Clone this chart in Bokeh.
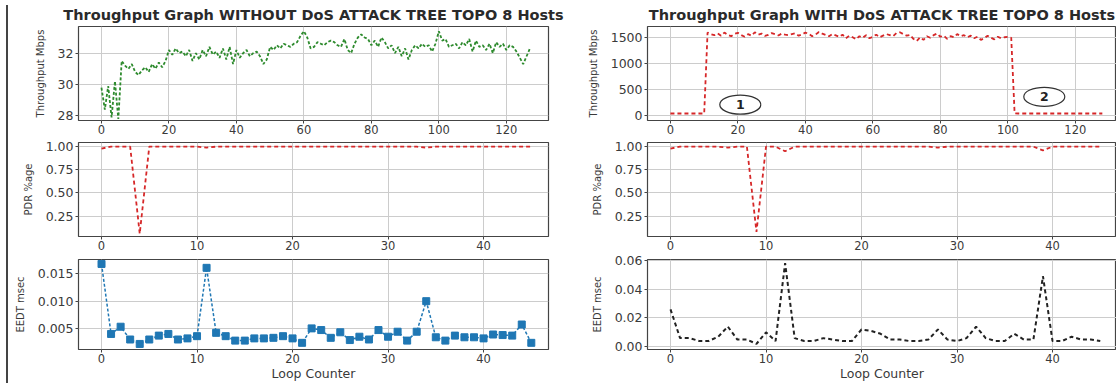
from bokeh.plotting import figure
from bokeh.models import FixedTicker, Range1d, Div, PrintfTickFormatter
from bokeh.layouts import row, column
from bokeh.embed import file_html
from bokeh.resources import INLINE
from bokeh.core.properties import value

# ---------------- data ----------------
tp_x = list(range(128))
tp_clean = [29.8, 28.4, 29.9, 27.9, 30.2, 27.8, 31.5, 31.2, 31.0, 31.3,
            30.8, 30.6, 30.9, 31.1, 30.8, 31.3, 31.0, 31.4, 31.1, 31.5,
            32.2, 31.9, 32.3, 32.0, 32.1, 31.8, 32.2, 31.5, 32.0, 31.6,
            32.2, 31.8, 32.4, 31.9, 32.1, 31.7, 32.3, 31.6, 32.4, 31.3,
            32.2, 31.7, 32.0, 32.2, 31.8, 32.0, 32.1, 31.8, 31.3, 31.6,
            32.4, 32.2, 32.5, 32.3, 32.6, 32.5, 32.4, 32.6, 32.7, 33.1,
            33.4, 33.0, 32.3, 32.4, 32.7, 32.6, 32.5, 32.7, 32.8, 32.7,
            32.5, 32.4, 32.9, 32.2, 32.0, 32.6, 33.0, 33.2, 33.0, 32.9,
            32.5, 32.8, 32.4, 33.0, 32.7, 32.3, 32.5, 32.0, 32.4, 31.8,
            32.3, 31.6, 32.2, 32.5, 32.3, 32.6, 32.4, 32.5, 32.1, 32.6,
            33.4, 32.8, 32.9, 32.4, 32.5, 32.6, 32.3, 32.7, 32.5, 32.9,
            32.1, 32.8, 32.4, 32.5, 32.2, 32.6, 32.0, 32.7, 32.4, 32.6,
            32.2, 32.5, 32.4, 32.1, 31.7, 31.3, 31.8, 32.3]
tp_attack = [40, 40, 40, 40, 40, 40, 40, 40, 40, 40,
             40, 1590, 1560, 1540, 1575, 1530, 1590, 1545, 1520, 1565,
             1585, 1540, 1510, 1560, 1530, 1595, 1550, 1570, 1525, 1545,
             1580, 1560, 1535, 1570, 1550, 1540, 1560, 1575, 1530, 1555,
             1590, 1565, 1520, 1550, 1600, 1570, 1545, 1520, 1560, 1535,
             1510, 1550, 1480, 1530, 1500, 1460, 1520, 1490, 1540, 1480,
             1510, 1550, 1500, 1530, 1560, 1540, 1520, 1580, 1595, 1560,
             1530, 1545, 1470, 1430, 1500, 1450, 1520, 1490, 1540, 1570,
             1510, 1530, 1470, 1520, 1500, 1560, 1520, 1540, 1500, 1530,
             1480, 1510, 1450, 1480, 1530, 1490, 1460, 1510, 1480, 1500,
             1510, 1490, 45, 40, 40, 40, 40, 40, 40, 40,
             40, 40, 40, 40, 40, 40, 40, 40, 40, 40,
             40, 40, 40, 40, 40, 40, 40, 40, 40]
tp_attack_x = list(range(len(tp_attack)))

loop = list(range(46))
pdr_clean = [0.98, 1.0, 1.0, 1.0, 0.06, 1.0, 1.0, 1.0, 1.0, 1.0,
             1.0, 0.99, 1.0, 1.0, 1.0, 1.0, 1.0, 1.0, 1.0, 1.0,
             1.0, 1.0, 1.0, 1.0, 1.0, 1.0, 1.0, 1.0, 1.0, 1.0,
             1.0, 1.0, 1.0, 1.0, 0.99, 1.0, 1.0, 1.0, 1.0, 1.0,
             1.0, 1.0, 1.0, 1.0, 1.0, 1.0]
pdr_attack = [0.98, 1.0, 1.0, 1.0, 1.0, 1.0, 0.99, 1.0, 1.0, 0.08,
              1.0, 1.0, 0.95, 1.0, 1.0, 1.0, 1.0, 1.0, 1.0, 1.0,
              1.0, 1.0, 1.0, 1.0, 1.0, 1.0, 1.0, 1.0, 0.99, 1.0,
              1.0, 1.0, 1.0, 1.0, 1.0, 1.0, 1.0, 1.0, 1.0, 0.96,
              1.0, 1.0, 1.0, 1.0, 1.0, 1.0]
eedt_clean = [0.0167, 0.0041, 0.0054, 0.0031, 0.0023, 0.0031, 0.0038, 0.0041, 0.0031, 0.0033,
              0.0037, 0.0160, 0.0043, 0.0037, 0.0029, 0.0029, 0.0033, 0.0033, 0.0034, 0.0037,
              0.0033, 0.0025, 0.0051, 0.0048, 0.0034, 0.0044, 0.0030, 0.0036, 0.0031, 0.0048,
              0.0036, 0.0045, 0.0029, 0.0045, 0.0100, 0.0035, 0.0029, 0.0038, 0.0035, 0.0035,
              0.0033, 0.0040, 0.0039, 0.0038, 0.0058, 0.0025]
eedt_attack = [0.026, 0.006, 0.006, 0.004, 0.004, 0.007, 0.014, 0.005, 0.005, 0.002,
               0.010, 0.004, 0.058, 0.006, 0.004, 0.004, 0.006, 0.005, 0.004, 0.004,
               0.012, 0.011, 0.009, 0.005, 0.005, 0.004, 0.004, 0.005, 0.012, 0.005,
               0.004, 0.006, 0.014, 0.006, 0.004, 0.004, 0.009, 0.005, 0.005, 0.049,
               0.004, 0.004, 0.007, 0.005, 0.005, 0.004]

callout_x = [20.7, 110.8]
callout_y = [210, 360]
callout_text = ["1", "2"]

title_clean = "Throughput Graph WITHOUT DoS ATTACK TREE TOPO 8 Hosts"
title_attack = "Throughput Graph WITH DoS ATTACK TREE TOPO 8 Hosts"
xticks_tp = [0, 20, 40, 60, 80, 100, 120]
xticks_loop = [0, 10, 20, 30, 40]

FONT = "DejaVu Sans"
TXT = "#3a3a3a"


def make_fig(width, height, xr, yr, bl, br, bt, bb, xticks, yticks, yfmt,
             ylabel, xlabel=None, title=None):
    p = figure(width=width, height=height,
               x_range=Range1d(*xr), y_range=Range1d(*yr),
               output_backend="svg", toolbar_location=None,
               min_border_left=bl, min_border_right=br,
               min_border_top=bt, min_border_bottom=bb,
               background_fill_color="white", border_fill_color="white")
    if title:
        p.title.text = title
        p.title.align = "center"
        p.title.text_font = FONT
        p.title.text_font_size = "14.5px"
        p.title.text_font_style = "bold"
        p.title.text_color = "#2a2a2a"
        p.title.standoff = 7
        p.title.offset = 0
    p.outline_line_color = "#444444"
    p.outline_line_width = 1.2
    p.xaxis.ticker = FixedTicker(ticks=xticks)
    p.yaxis.ticker = FixedTicker(ticks=yticks)
    if yfmt:
        p.yaxis.formatter = PrintfTickFormatter(format=yfmt)
    for ax in (p.xaxis, p.yaxis):
        ax.axis_line_color = None
        ax.major_tick_out = 3
        ax.major_tick_in = 0
        ax.minor_tick_line_color = None
        ax.major_tick_line_color = "#444444"
        ax.major_label_text_font = FONT
        ax.major_label_text_color = TXT
        ax.major_label_standoff = 2
        ax.axis_label_text_font = FONT
        ax.axis_label_text_font_style = "normal"
        ax.axis_label_text_color = TXT
    p.yaxis.major_label_text_font_size = "12.5px"
    p.xaxis.major_label_text_font_size = "11.5px"
    p.xaxis.major_label_standoff = 1
    p.yaxis.axis_label = ylabel
    p.yaxis.axis_label_text_font_size = "10px"
    p.yaxis.axis_label_standoff = 9
    if xlabel:
        p.xaxis.axis_label = xlabel
        p.xaxis.axis_label_text_font_size = "12.5px"
        p.xaxis.axis_label_standoff = 0
    p.grid.grid_line_color = "#cccccc"
    p.grid.grid_line_width = 1
    return p


LW, RW = 576, 532
LB, LR = 70, 36
RBL, RBR = 63, 0
H1, H2, H3 = 138, 115, 130

# --- left column (without attack)
l1 = make_fig(LW, H1, (-6.8, 132.5), (27.7, 33.7), LB, LR, 26, 18,
              xticks_tp, [28, 30, 32], None, "Throughput Mbps", title=title_clean)
l1.line(tp_x, tp_clean, line_color="#2e8b2e", line_width=1.8, line_dash="3 2")

l2 = make_fig(LW, H2, (-2.41, 46.8), (0.03, 1.045), LB, LR, 4, 17,
              xticks_loop, [0.25, 0.5, 0.75, 1.0], "%.2f", "PDR %age")
l2.line(loop, pdr_clean, line_color="#d62728", line_width=1.8, line_dash="4 3")

l3 = make_fig(LW, H3, (-2.41, 46.8), (0.0013, 0.0175), LB, LR, 6, 30,
              xticks_loop, [0.005, 0.010, 0.015], "%.3f", "EEDT msec", xlabel="Loop Counter")
l3.line(loop, eedt_clean, line_color="#1f77b4", line_width=1.5, line_dash="3 2")
l3.scatter(loop, eedt_clean, marker="square", size=7, fill_color="#1f77b4", line_color="#1f77b4")

# --- right column (with attack)
r1 = make_fig(RW, H1, (-6.8, 132.2), (-94, 1706), RBL, RBR, 26, 18,
              xticks_tp, [0, 500, 1000, 1500], None, "Throughput Mbps", title=title_attack)
r1.line(tp_attack_x, tp_attack, line_color="#d62728", line_width=1.8, line_dash="4 3")
r1.ellipse(x=callout_x, y=callout_y, width=41, height=19, width_units="screen",
           height_units="screen", fill_color="white", line_color="#333333", line_width=1.2)
r1.text(x=callout_x, y=callout_y, text=callout_text, text_align="center",
        text_baseline="middle", text_font=value(FONT), text_font_size=value("12.5px"),
        text_font_style="bold", text_color="#222222")

r2 = make_fig(RW, H2, (-2.41, 46.7), (0.03, 1.045), RBL, RBR, 4, 17,
              xticks_loop, [0.25, 0.5, 0.75, 1.0], "%.2f", "PDR %age")
r2.line(loop, pdr_attack, line_color="#d62728", line_width=1.8, line_dash="4 3")

r3 = make_fig(RW, H3, (-2.41, 46.7), (-0.0019, 0.0606), RBL, RBR, 6, 30,
              xticks_loop, [0.0, 0.02, 0.04, 0.06], "%.2f", "EEDT msec", xlabel="Loop Counter")
r3.line(loop, eedt_attack, line_color="#222222", line_width=2, line_dash="4 3")

edge = Div(text="", width=2, height=378, margin=(5, 0, 0, 6),
           styles={"background-color": "#444444"})

layout = row(edge, column(l1, l2, l3), column(r1, r2, r3))

open("out.html", "w").write(file_html(layout, INLINE))
